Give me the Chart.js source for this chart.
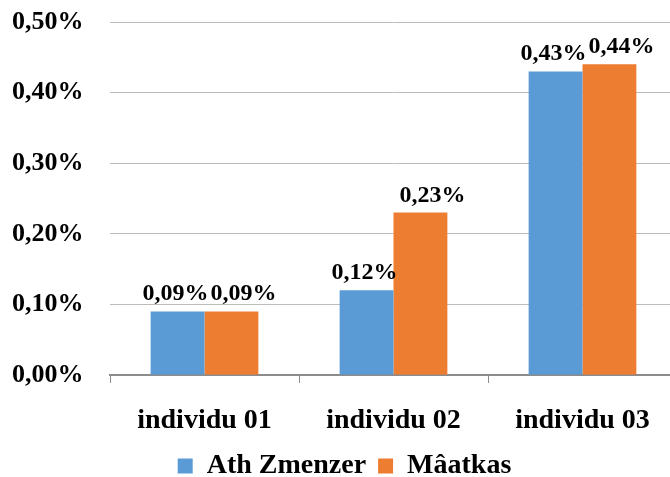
<!DOCTYPE html>
<html>
<head>
<meta charset="utf-8">
<script src="https://cdn.jsdelivr.net/npm/chart.js@4.4.1/dist/chart.umd.min.js"></script>
<style>
  html, body { margin: 0; padding: 0; background: #fff; overflow: hidden; }
  #wrap { position: relative; width: 678px; height: 490px; }
</style>
</head>
<body>
<div id="wrap"><canvas id="chart"></canvas></div>
<script>
// categories and values (in %)
const individus = ['individu 01', 'individu 02', 'individu 03'];
const athZmenzer = [0.09, 0.12, 0.43];
const maatkas = [0.09, 0.23, 0.44];
const yTicks = [0, 0.1, 0.2, 0.3, 0.4, 0.5];

const fontFam = '"Liberation Serif", "Times New Roman", serif';

// format a value like 0,09%
function pct(v) {
  return v.toFixed(2).replace('.', ',') + '%';
}

// labels over bars, orange ones pushed a little right like the original
const barLabels = {
  id: 'barLabels',
  afterDatasetsDraw(chart) {
    const ctx = chart.ctx;
    const shift = [-2, 12];
    ctx.save();
    ctx.font = 'bold 24px ' + fontFam;
    ctx.fillStyle = '#000';
    ctx.textAlign = 'center';
    ctx.textBaseline = 'alphabetic';
    chart.data.datasets.forEach((ds, i) => {
      chart.getDatasetMeta(i).data.forEach((bar, j) => {
        ctx.fillText(pct(ds.data[j]), bar.x + shift[i], bar.y - 11);
      });
    });
    ctx.restore();
  }
};

const chart = new Chart(document.getElementById('chart'), {
  type: 'bar',
  data: {
    labels: individus,
    datasets: [
      { label: 'Ath Zmenzer', data: athZmenzer, backgroundColor: '#5B9BD5' },
      { label: 'Mâatkas', data: maatkas, backgroundColor: '#ED7D31' }
    ]
  },
  options: {
    responsive: true,
    maintainAspectRatio: false,
    animation: false,
    layout: { padding: { top: 22, left: 12, right: 1, bottom: 0 } },
    datasets: { bar: { categoryPercentage: 0.57, barPercentage: 1 } },
    plugins: {
      legend: {
        position: 'bottom',
        labels: {
          boxWidth: 15,
          boxHeight: 15,
          padding: 12,
          color: '#000',
          font: { family: fontFam, size: 28, weight: 'bold' }
        }
      },
      tooltip: { enabled: false }
    },
    scales: {
      x: {
        grid: { drawOnChartArea: false, tickLength: 8, color: '#8c8c8c' },
        border: { color: '#8c8c8c', width: 2 },
        ticks: {
          padding: 21,
          color: '#000',
          font: { family: fontFam, size: 28, weight: 'bold' }
        },
        afterFit: (s) => { s.height = 65; s.paddingLeft = 0; s.paddingRight = 0; }
      },
      y: {
        min: yTicks[0],
        max: yTicks[yTicks.length - 1],
        afterBuildTicks: (axis) => { axis.ticks = yTicks.map(v => ({ value: v })); },
        grid: { color: '#bcbcbc', drawTicks: false },
        border: { display: false },
        ticks: {
          padding: 0,
          crossAlign: 'far',
          color: '#000',
          font: { family: fontFam, size: 26, weight: 'bold' },
          callback: (v) => pct(v)
        },
        afterFit: (s) => { s.width = 98; s.paddingTop = 0; s.paddingBottom = 0; }
      }
    }
  },
  plugins: [barLabels]
});
</script>
</body>
</html>
